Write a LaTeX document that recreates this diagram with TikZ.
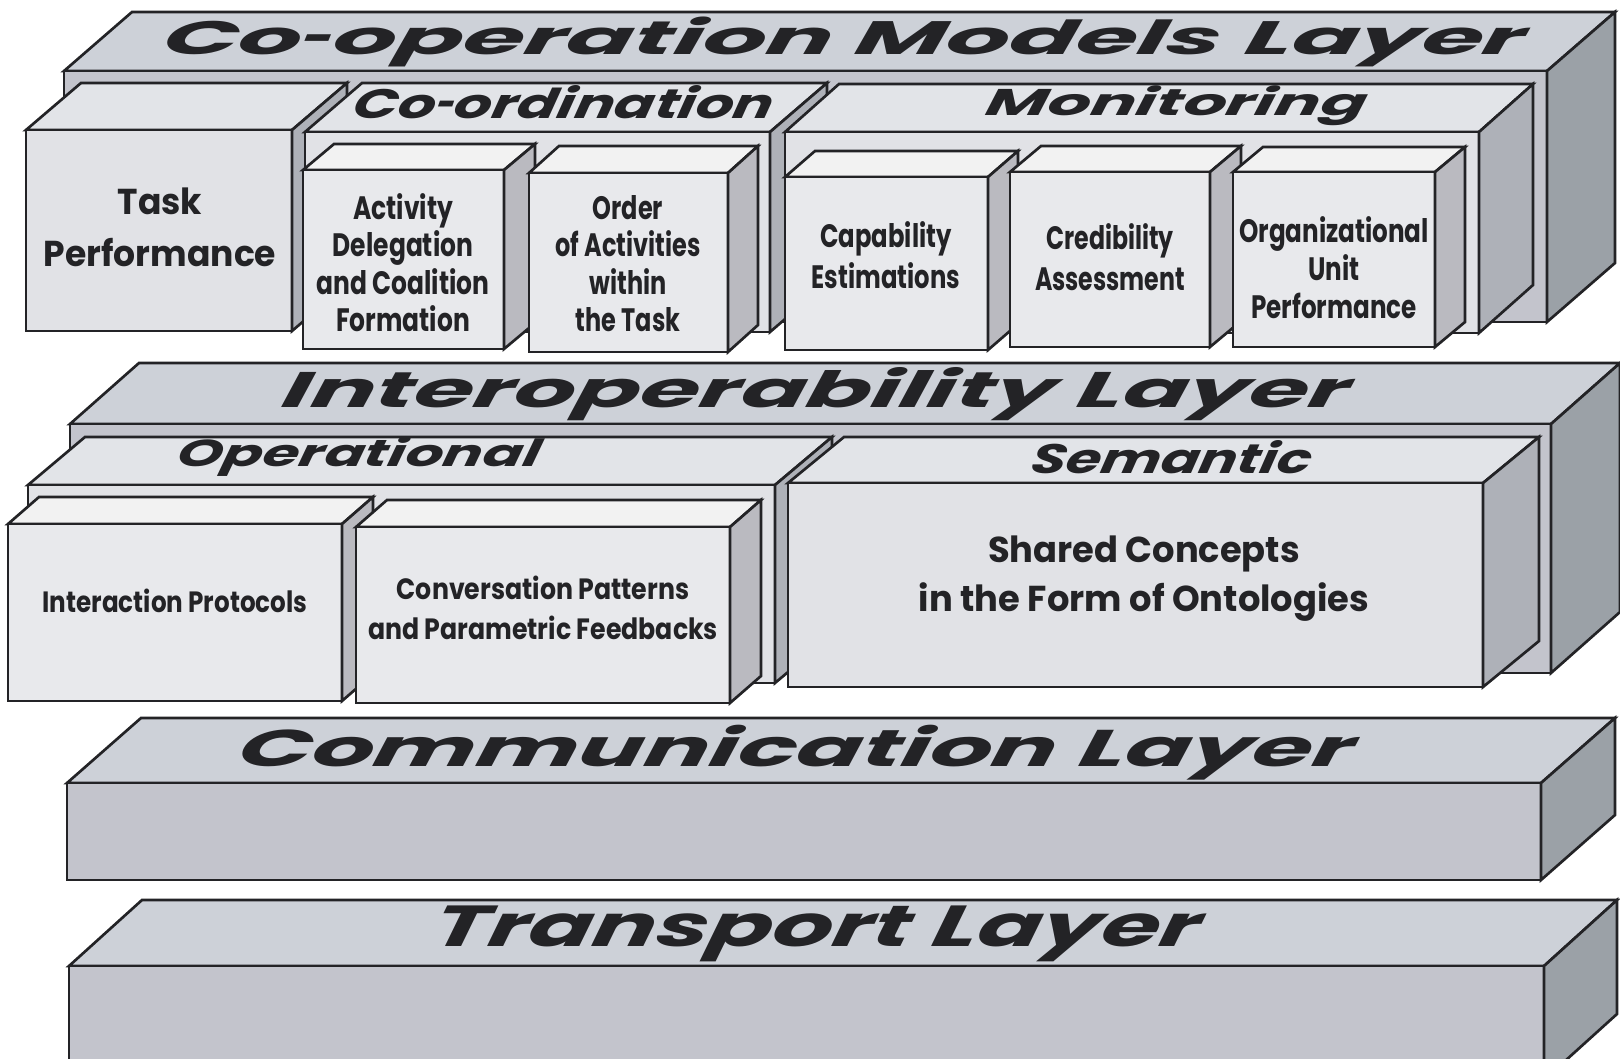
\documentclass[tikz,border=0pt]{standalone}
\usepackage{fontspec}
\setsansfont{Poppins}
\usepackage{graphicx}

\definecolor{edge}{RGB}{35,35,38}
\definecolor{layertop}{RGB}{205,209,216}
\definecolor{layerfront}{RGB}{195,196,204}
\definecolor{layerside}{RGB}{155,161,167}
\definecolor{grouptop}{RGB}{226,228,232}
\definecolor{groupfront}{RGB}{225,226,230}
\definecolor{groupside}{RGB}{174,177,184}
\definecolor{boxtop}{RGB}{242,242,242}
\definecolor{boxfront}{RGB}{232,233,236}
\definecolor{boxside}{RGB}{186,186,192}

\tikzset{every picture/.style={line width=2pt}}
\tikzset{
  ltop/.style={draw=edge, fill=layertop},
  lfront/.style={draw=edge, fill=layerfront},
  lside/.style={draw=edge, fill=layerside},
  gtop/.style={draw=edge, fill=grouptop},
  gfront/.style={draw=edge, fill=groupfront},
  gside/.style={draw=edge, fill=groupside},
  btop/.style={draw=edge, fill=boxtop},
  bfront/.style={draw=edge, fill=boxfront},
  bside/.style={draw=edge, fill=boxside},
  heading/.style={anchor=south west, inner sep=0pt, text=edge, font=\sffamily\bfseries\itshape,
    yscale=-1, xslant=0.2, transform shape},
  boxtext/.style 2 args={inner sep=0pt, text=edge, font=\fontsize{#1}{#2}\selectfont\sffamily\bfseries},
}

% fit a title into a given width and total height (in pt)
\newcommand{\fitto}[3]{\resizebox*{#1pt}{#2pt}{#3}}
% centred lines, squeezed horizontally
\newcommand{\squeeze}[2]{\scalebox{#1}[1]{\begin{tabular}{@{}c@{}}#2\end{tabular}}}
% short hyphen for the titles
\newcommand{\hy}{\scalebox{0.55}[1]{-}}

\begin{document}
\begin{tikzpicture}[x=0.75pt,y=0.75pt,yscale=-1,xscale=1]
\useasboundingbox (0,0) rectangle (1620,1059);
\clip (0,0) rectangle (1620,1059);

%Shape: Cube (co-operation models layer)
\draw [ltop] (64,71) -- ++(68,-59) -- ++(1483,0) -- ++(-68,59) -- cycle ;
\draw [lfront] (64,71) rectangle (1547,322) ;
\draw [lside] (1547,71) -- ++(68,-59) -- ++(0,251) -- ++(-68,59) -- cycle ;
%Shape: Cube (task performance)
\draw [gtop] (26,130) -- ++(55,-47) -- ++(266,0) -- ++(-55,47) -- cycle ;
\draw [gfront] (26,130) rectangle (292,331) ;
\draw [gside] (292,130) -- ++(55,-47) -- ++(0,201) -- ++(-55,47) -- cycle ;
%Shape: Cube (co-ordination)
\draw [gtop] (305,132) -- ++(57,-49) -- ++(465,0) -- ++(-57,49) -- cycle ;
\draw [gfront] (305,132) rectangle (770,332) ;
\draw [gside] (770,132) -- ++(57,-49) -- ++(0,200) -- ++(-57,49) -- cycle ;
%Shape: Cube (activity delegation)
\draw [btop] (303,170) -- ++(31,-26) -- ++(201,0) -- ++(-31,26) -- cycle ;
\draw [bfront] (303,170) rectangle (504,349) ;
\draw [bside] (504,170) -- ++(31,-26) -- ++(0,179) -- ++(-31,26) -- cycle ;
%Shape: Cube (order of activities)
\draw [btop] (529,173) -- ++(30,-27) -- ++(199,0) -- ++(-30,27) -- cycle ;
\draw [bfront] (529,173) rectangle (728,352) ;
\draw [bside] (728,173) -- ++(30,-27) -- ++(0,179) -- ++(-30,27) -- cycle ;
%Shape: Cube (monitoring)
\draw [gtop] (785,132) -- ++(54,-48) -- ++(694,0) -- ++(-54,48) -- cycle ;
\draw [gfront] (785,132) rectangle (1479,333) ;
\draw [gside] (1479,132) -- ++(54,-48) -- ++(0,201) -- ++(-54,48) -- cycle ;
%Shape: Cube (capability)
\draw [btop] (785,177) -- ++(30,-26) -- ++(203,0) -- ++(-30,26) -- cycle ;
\draw [bfront] (785,177) rectangle (988,350) ;
\draw [bside] (988,177) -- ++(30,-26) -- ++(0,173) -- ++(-30,26) -- cycle ;
%Shape: Cube (credibility)
\draw [btop] (1010,172) -- ++(31,-26) -- ++(200,0) -- ++(-31,26) -- cycle ;
\draw [bfront] (1010,172) rectangle (1210,347) ;
\draw [bside] (1210,172) -- ++(31,-26) -- ++(0,175) -- ++(-31,26) -- cycle ;
%Shape: Cube (organizational unit)
\draw [btop] (1233,172) -- ++(30,-25) -- ++(202,0) -- ++(-30,25) -- cycle ;
\draw [bfront] (1233,172) rectangle (1435,347) ;
\draw [bside] (1435,172) -- ++(30,-25) -- ++(0,175) -- ++(-30,25) -- cycle ;

%Shape: Cube (interoperability layer)
\draw [ltop] (70,424) -- ++(69,-61) -- ++(1481,0) -- ++(-69,61) -- cycle ;
\draw [lfront] (70,424) rectangle (1551,673) ;
\draw [lside] (1551,424) -- ++(69,-61) -- ++(0,249) -- ++(-69,61) -- cycle ;
%Shape: Cube (operational)
\draw [gtop] (28,485) -- ++(57,-48) -- ++(747,0) -- ++(-57,48) -- cycle ;
\draw [gfront] (28,485) rectangle (775,683) ;
\draw [gside] (775,485) -- ++(57,-48) -- ++(0,198) -- ++(-57,48) -- cycle ;
%Shape: Cube (interaction protocols)
\draw [btop] (8,524) -- ++(31,-27) -- ++(334,0) -- ++(-31,27) -- cycle ;
\draw [bfront] (8,524) rectangle (342,701) ;
\draw [bside] (342,524) -- ++(31,-27) -- ++(0,177) -- ++(-31,27) -- cycle ;
%Shape: Cube (conversation patterns)
\draw [btop] (356,527) -- ++(31,-27) -- ++(374,0) -- ++(-31,27) -- cycle ;
\draw [bfront] (356,527) rectangle (730,703) ;
\draw [bside] (730,527) -- ++(31,-27) -- ++(0,176) -- ++(-31,27) -- cycle ;
%Shape: Cube (semantic)
\draw [gtop] (788,483) -- ++(56,-46) -- ++(695,0) -- ++(-56,46) -- cycle ;
\draw [gfront] (788,483) rectangle (1483,687) ;
\draw [gside] (1483,483) -- ++(56,-46) -- ++(0,204) -- ++(-56,46) -- cycle ;

%Shape: Cube (communication layer)
\draw [ltop] (67,783) -- ++(74,-65) -- ++(1474,0) -- ++(-74,65) -- cycle ;
\draw [lfront] (67,783) rectangle (1541,880) ;
\draw [lside] (1541,783) -- ++(74,-65) -- ++(0,97) -- ++(-74,65) -- cycle ;
%Shape: Cube (transport layer)
\draw [ltop] (69,966) -- ++(73,-66) -- ++(1475,0) -- ++(-73,66) -- cycle ;
\draw [lfront] (69,966) rectangle (1544,1080) ;
\draw [lside] (1544,966) -- ++(73,-66) -- ++(0,114) -- ++(-73,66) -- cycle ;

% Text Node
\draw (157,68) node (coopTitle) [heading] {\fitto{1021.5}{37.5}{Co\hy operation Models Layer}};
% Text Node
\draw (350,120) node (coordTitle) [heading] {\fitto{315}{25}{Co\hy ordination}};
% Text Node
\draw (981,126.7) node (monTitle) [heading] {\fitto{285}{30}{Monitoring}};
% Text Node
\draw (276.5,421.7) node (interTitle) [heading] {\fitto{799.6}{40}{Interoperability Layer}};
% Text Node
\draw (172,478.3) node (operTitle) [heading] {\fitto{272}{30}{Operational}};
% Text Node
\draw (1028,475) node (semTitle) [heading] {\fitto{210}{25}{Semantic}};
% Text Node
\draw (232,781.7) node (commTitle) [heading] {\fitto{836.6}{41.25}{Communication Layer}};
% Text Node
\draw (426,963.3) node (transTitle) [heading] {\fitto{574.7}{42}{Transport Layer}};

% Text Node
\draw (160,230) node (task) [boxtext={27}{38.8}] {\squeeze{0.96}{Task\\Performance}};
% Text Node
\draw (403,268) node (delegation) [boxtext={24.3}{28}] {\squeeze{0.77}{Activity\\Delegation\\and Coalition\\Formation}};
% Text Node
\draw (628,268) node (order) [boxtext={24.3}{28}] {\squeeze{0.74}{Order\\of Activities\\within\\the Task}};
% Text Node
\draw (886,260) node (capability) [boxtext={24.3}{31}] {\squeeze{0.75}{Capability\\Estimations}};
% Text Node
\draw (1110,262) node (credibility) [boxtext={24.3}{31}] {\squeeze{0.73}{Credibility\\Assessment}};
% Text Node
\draw (1334,273) node (orgunit) [boxtext={24.3}{28.3}] {\squeeze{0.76}{Organizational\\Unit\\Performance}};
% Text Node
\draw (175,604) node (protocols) [boxtext={22}{30}] {\squeeze{0.84}{Interaction Protocols}};
% Text Node
\draw (543,611) node (patterns) [boxtext={22}{30}] {\squeeze{0.86}{Conversation Patterns\\and Parametric Feedbacks}};
% Text Node
\draw (1144,577) node (concepts) [boxtext={27}{37.2}] {\squeeze{0.98}{Shared Concepts\\in the Form of Ontologies}};

\end{tikzpicture}
\end{document}
